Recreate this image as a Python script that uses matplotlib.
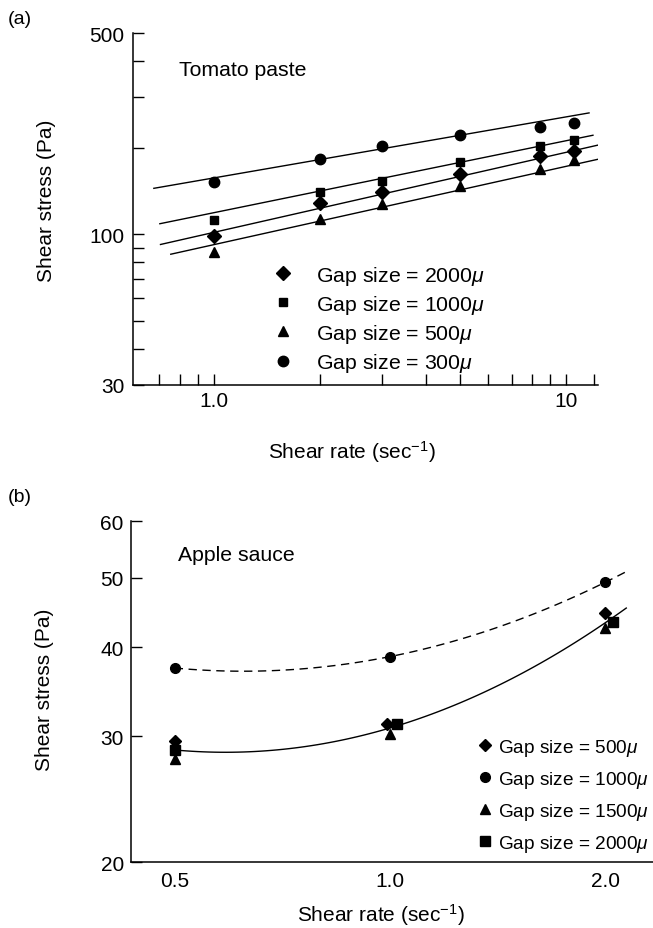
import matplotlib
matplotlib.use('Agg')
import matplotlib.pyplot as plt
from matplotlib.ticker import NullFormatter
import numpy as np

plt.rcParams['font.family'] = ['Liberation Sans', 'DejaVu Sans']
plt.rcParams['mathtext.fontset'] = 'custom'
plt.rcParams['mathtext.rm'] = 'Liberation Sans'
plt.rcParams['mathtext.it'] = 'Liberation Sans:italic'

# (a) tomato paste, shear rate vs shear stress for each gap size
rate_a = [1.0, 2.0, 3.0, 5.0, 8.4, 10.5]
tp_2000 = [98.4, 128.5, 140.6, 161.8, 186.7, 195.0]
tp_1000 = [112.0, 140.0, 153.0, 178.0, 203.0, 213.0]
tp_500 = [87.0, 113.0, 127.0, 147.5, 169.0, 181.0]
tp_300 = [152.0, 183.0, 203.0, 221.0, 236.0, 243.0]

# power law lines drawn in the figure (K, n) and their extent
fit_K = [101.6, 118.9, 92.1, 157.0]
fit_n = [0.278, 0.250, 0.272, 0.212]
fit_lo = [0.706, 0.703, 0.755, 0.676]
fit_hi = [12.3, 11.9, 12.3, 11.6]

# (b) apple sauce
rate_b = [0.5, 1.0, 2.0]
rate_b_500 = [0.5, 0.99, 2.0]
rate_b_2000 = [0.5, 1.024, 2.05]
as_500 = [29.6, 31.2, 44.7]
as_1000 = [37.4, 38.8, 49.3]
as_1500 = [27.9, 30.2, 42.5]
as_2000 = [28.7, 31.2, 43.4]
curve_hi = 2.14

fig = plt.figure(figsize=(6.53, 9.29), dpi=100)

# ---------- panel (a)
ax1 = fig.add_axes([0.2037, 0.5845, 0.7121, 0.3789])
ax1.set_xscale('log')
ax1.set_yscale('log')

series_a = [tp_2000, tp_1000, tp_500, tp_300]
labels_a = ['Gap size = 2000$\\mu$', 'Gap size = 1000$\\mu$',
            'Gap size = 500$\\mu$', 'Gap size = 300$\\mu$']
markers_a = ['D', 's', '^', 'o']
sizes_a = [7, 6, 7.5, 7.5]
for i in range(4):
    xx = np.geomspace(fit_lo[i], fit_hi[i], 50)
    ax1.plot(xx, fit_K[i] * xx ** fit_n[i], color='black', lw=1.0)
for i in range(4):
    ax1.plot(rate_a, series_a[i], linestyle='none', marker=markers_a[i],
             ms=sizes_a[i], color='black', label=labels_a[i])

ax1.set_xlim(0.59, 12.3)
ax1.set_ylim(30, 500)
ax1.set_xticks([1, 10], ['1.0', '10'])
ax1.set_xticks([0.7, 0.8, 0.9, 2, 3, 4, 5, 6, 7, 8, 9, 12], minor=True)
ax1.set_yticks([30, 100, 500], ['30', '100', '500'])
ax1.set_yticks([40, 50, 60, 70, 80, 90, 200, 300, 400], minor=True)
ax1.xaxis.set_minor_formatter(NullFormatter())
ax1.yaxis.set_minor_formatter(NullFormatter())
ax1.tick_params(which='both', direction='in', length=8, width=1, labelsize=15)
ax1.tick_params(axis='x', pad=4)
ax1.tick_params(axis='y', pad=6)
ax1.text(0.0989, 0.8977, 'Tomato paste', fontsize=15.3, va='center', ha='left',
         transform=ax1.transAxes)
ax1.legend(loc='upper left', bbox_to_anchor=(0.300, 0.345), frameon=False,
           fontsize=15.3, handlelength=1.0, handletextpad=1.05, borderpad=0,
           borderaxespad=0, labelspacing=0.29, numpoints=1)

# ---------- panel (b)
ax2 = fig.add_axes([0.2002, 0.0707, 0.8328, 0.3671])
ax2.set_xscale('log')
ax2.set_yscale('log')

# dashed curve through the 1000 micron data, solid through the others
xx = np.geomspace(rate_b[0], curve_hi, 80)
c1 = np.polyfit(np.log10(rate_b), np.log10(as_1000), 2)
ax2.plot(xx, 10 ** np.polyval(c1, np.log10(xx)), color='black', lw=1.0,
         dashes=(6, 4))
xs = np.log10(rate_b_500 + rate_b + rate_b_2000)
ys = np.log10(as_500 + as_1500 + as_2000)
c2 = np.polyfit(xs, ys, 2)
ax2.plot(xx, 10 ** np.polyval(c2, np.log10(xx)), color='black', lw=1.0)

ax2.plot(rate_b, as_1500, linestyle='none', marker='^', ms=7, color='black',
         label='Gap size = 1500$\\mu$')
ax2.plot(rate_b_2000, as_2000, linestyle='none', marker='s', ms=6.5, color='black',
         label='Gap size = 2000$\\mu$')
ax2.plot(rate_b_500, as_500, linestyle='none', marker='D', ms=6.5, color='black',
         label='Gap size = 500$\\mu$')
ax2.plot(rate_b, as_1000, linestyle='none', marker='o', ms=7, color='black',
         label='Gap size = 1000$\\mu$')

ax2.set_xlim(0.434, 2.5)
ax2.set_ylim(20, 60)
ax2.set_xticks([0.5, 1.0, 2.0], ['0.5', '1.0', '2.0'])
ax2.set_xticks([], minor=True)
ax2.set_yticks([20, 30, 40, 50, 60], ['20', '30', '40', '50', '60'])
ax2.set_yticks([], minor=True)
ax2.tick_params(which='both', direction='in', width=1, labelsize=15)
ax2.tick_params(axis='x', length=0, pad=6)
ax2.tick_params(axis='y', length=8, pad=5)
ax2.text(0.0868, 0.9023, 'Apple sauce', fontsize=15.3, va='center', ha='left',
         transform=ax2.transAxes)
h, l = ax2.get_legend_handles_labels()
order = [2, 3, 0, 1]
ax2.legend([h[k] for k in order], [l[k] for k in order], loc='upper left',
           bbox_to_anchor=(0.637, 0.368), frameon=False, fontsize=13.7,
           handlelength=0.8, handletextpad=0.3, borderpad=0, borderaxespad=0,
           labelspacing=0.58, numpoints=1)

for ax in [ax1, ax2]:
    ax.spines['top'].set_visible(False)
    ax.spines['right'].set_visible(False)
    ax.spines['left'].set_linewidth(1.1)
    ax.spines['bottom'].set_linewidth(1.1)

# axis titles and panel letters
fig.text(47 / 653, 1 - 201 / 929, 'Shear stress (Pa)', rotation=90,
         ha='center', va='center', fontsize=15)
fig.text(352 / 653, 1 - 452 / 929, 'Shear rate (sec$^{-1}$)',
         ha='center', va='center', fontsize=15)
fig.text(45 / 653, 1 - 690 / 929, 'Shear stress (Pa)', rotation=90,
         ha='center', va='center', fontsize=15)
fig.text(381 / 653, 1 - 915 / 929, 'Shear rate (sec$^{-1}$)',
         ha='center', va='center', fontsize=15)
fig.text(8 / 653, 1 - 20 / 929, '(a)', ha='left', va='center', fontsize=14)
fig.text(8 / 653, 1 - 498 / 929, '(b)', ha='left', va='center', fontsize=14)

fig.savefig('out.png', dpi=100)
